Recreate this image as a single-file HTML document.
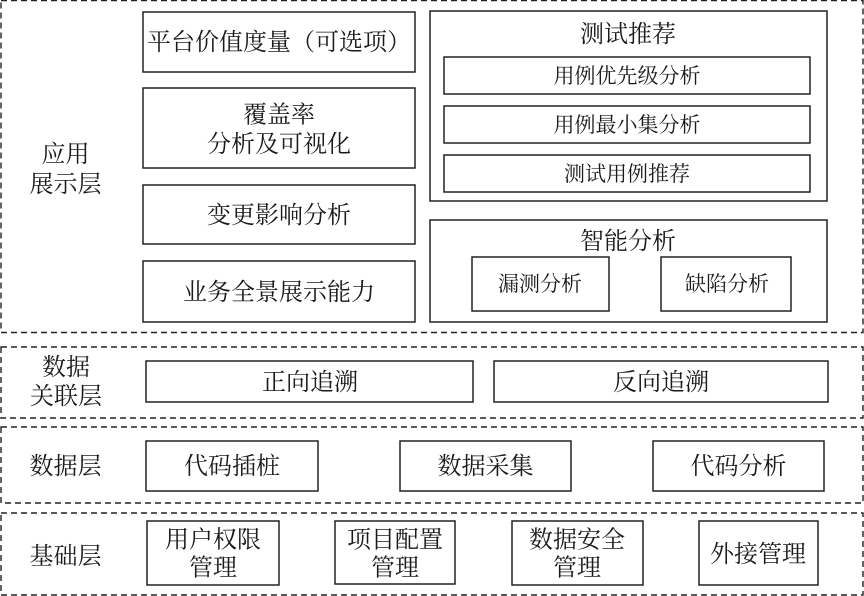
<!DOCTYPE html>
<html><head><meta charset="utf-8">
<style>
html,body{margin:0;padding:0;background:#fff}
body{width:864px;height:596px;overflow:hidden}
svg{display:block}
text{font-family:"Noto Serif CJK SC","Liberation Serif",serif;fill:#1a1a1a;text-anchor:middle;font-size:24px}
.d{fill:none;stroke:#222;stroke-width:1.4;stroke-dasharray:6 4}
.b{fill:#fff;stroke:#222;stroke-width:1.5}
.s{font-size:21px}
</style></head><body>
<svg width="864" height="596" viewBox="0 0 864 596">
<rect class="d" x="1" y="0.5" width="862" height="332"/>
<rect class="d" x="1" y="347" width="862" height="71"/>
<rect class="d" x="1" y="427" width="862" height="76"/>
<rect class="d" x="1" y="513" width="862" height="82"/>

<text x="65.5" y="162">应用</text><text x="65.5" y="192">展示层</text>
<text x="66" y="375">数据</text><text x="66" y="404">关联层</text>
<text x="65.5" y="474">数据层</text>
<text x="65.5" y="564">基础层</text>

<rect class="b" x="143" y="12" width="272" height="60"/>
<text x="279" y="50">平台价值度量（可选项）</text>
<rect class="b" x="143" y="88" width="272" height="80"/>
<text x="279" y="122.5">覆盖率</text><text x="279" y="152">分析及可视化</text>
<rect class="b" x="143" y="185" width="272" height="59"/>
<text x="279" y="223">变更影响分析</text>
<rect class="b" x="143" y="261" width="272" height="61"/>
<text x="279" y="300">业务全景展示能力</text>

<rect class="b" x="430" y="11" width="397" height="190"/>
<text x="628" y="42">测试推荐</text>
<rect class="b" x="444" y="57" width="366" height="37"/>
<text class="s" x="627" y="83">用例优先级分析</text>
<rect class="b" x="444" y="106" width="366" height="37"/>
<text class="s" x="627" y="132">用例最小集分析</text>
<rect class="b" x="444" y="155" width="366" height="37"/>
<text class="s" x="627" y="181">测试用例推荐</text>

<rect class="b" x="430" y="220" width="397" height="102"/>
<text x="628" y="249">智能分析</text>
<rect class="b" x="472" y="257" width="137" height="54"/>
<text class="s" x="540" y="291">漏测分析</text>
<rect class="b" x="661" y="257" width="130" height="54"/>
<text class="s" x="727" y="291">缺陷分析</text>

<rect class="b" x="146" y="361" width="327" height="41"/>
<text x="310" y="390">正向追溯</text>
<rect class="b" x="494" y="361" width="334" height="41"/>
<text x="661" y="390">反向追溯</text>

<rect class="b" x="146" y="441" width="172" height="50"/>
<text x="232" y="474">代码插桩</text>
<rect class="b" x="400" y="441" width="171" height="50"/>
<text x="485.5" y="474">数据采集</text>
<rect class="b" x="653" y="441" width="171" height="50"/>
<text x="738.5" y="474">代码分析</text>

<rect class="b" x="147" y="521" width="132" height="64"/>
<text x="213" y="547.5">用户权限</text><text x="213" y="575.5">管理</text>
<rect class="b" x="335" y="521" width="120" height="63"/>
<text x="395" y="547.5">项目配置</text><text x="395" y="575.5">管理</text>
<rect class="b" x="512" y="521" width="131" height="64"/>
<text x="577" y="547.5">数据安全</text><text x="577" y="575.5">管理</text>
<rect class="b" x="699" y="521" width="119" height="64"/>
<text x="758" y="562">外接管理</text>
</svg>
</body></html>
